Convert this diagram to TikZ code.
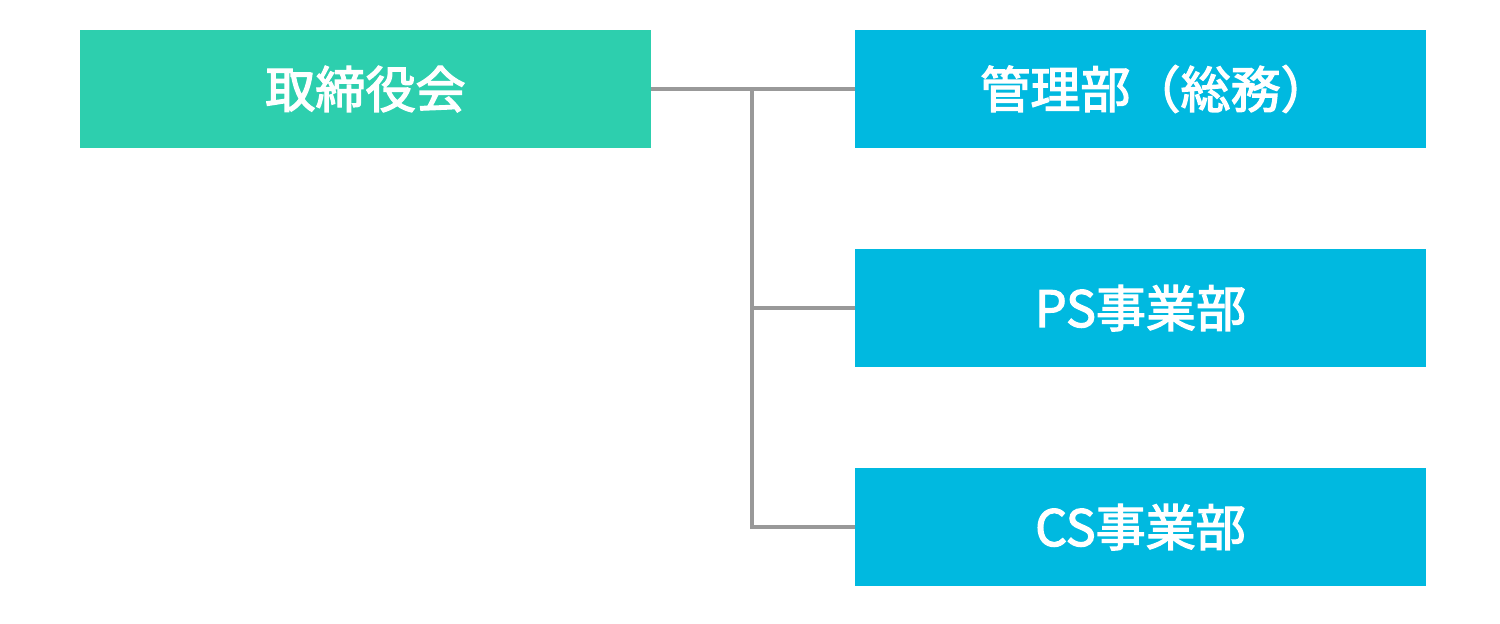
\documentclass[tikz,border=0pt]{standalone}
\usepackage{fontspec}
\usepackage{xcolor}
\usepackage{tikz}
\usetikzlibrary{positioning,calc}
\newfontfamily\jpfont[FakeBold=2.5]{Noto Sans CJK JP}

\definecolor{boardgreen}{HTML}{2DCFAE}
\definecolor{deptblue}{HTML}{00B9E0}
\definecolor{linegray}{HTML}{999999}

\tikzset{
    orgbox/.style={minimum width=11.42cm, minimum height=2.36cm, inner sep=0pt,
        text=white, font=\jpfont\fontsize{28.5}{31}\selectfont},
    orgline/.style={linegray, line width=2.3pt}
}

\begin{document}
\begin{tikzpicture}[x=0.02cm, y=-0.02cm]
    \useasboundingbox (0,0) rectangle (1500,623);

    % Board
    \node[orgbox, fill=boardgreen] (board) at (365.5,89) {取締役会};

    % Departments
    \node[orgbox, fill=deptblue] (admin) at (1140.5,89) {\hspace{0.6cm}管理部（総務）};
    \node[orgbox, fill=deptblue] (ps) at (1140.5,308) {PS事業部};
    \node[orgbox, fill=deptblue] (cs) at (1140.5,527) {CS事業部};

    % Lines
    \coordinate (trunk) at (752,89);
    \draw[orgline] (board.east) -- (admin.west);
    \draw[orgline] (trunk) |- (ps.west);
    \draw[orgline] (trunk) |- (cs.west);
\end{tikzpicture}
\end{document}
